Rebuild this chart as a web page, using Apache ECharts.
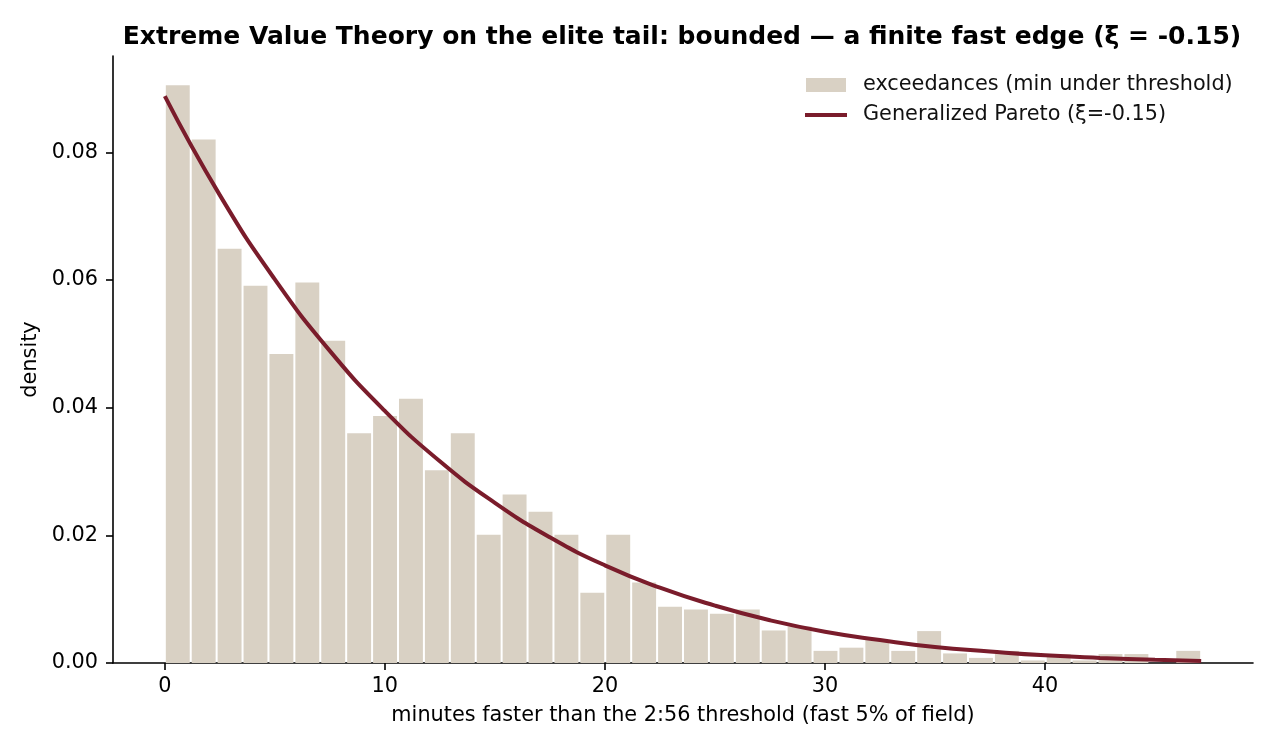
<!DOCTYPE html>
<html>
	<head>
		<meta charset="UTF-8">
		<title>EVT elite tail</title>
		<style>
			body { margin: 0; background: #fff; }
		</style>
	</head>
	<body>
		<div id="main" style="width: 1275px;height:750px;"></div>
		<script src="https://cdn.jsdelivr.net/npm/echarts@6.0.0/dist/echarts.min.js"></script>
		<script type="text/javascript">
			// histogram of exceedances (density), 40 equal bins from 0 to 47.1
			var binStart = 0;
			var binWidth = 1.1775;
			var densities = [
				0.0905, 0.0820, 0.0649, 0.0591, 0.0484, 0.0596, 0.0505, 0.0360, 0.0387, 0.0414,
				0.0302, 0.0360, 0.0201, 0.0264, 0.0237, 0.0201, 0.0110, 0.0201, 0.0126, 0.0088,
				0.0084, 0.0077, 0.0084, 0.0051, 0.0057, 0.0019, 0.0024, 0.0036, 0.0019, 0.0050,
				0.0015, 0.0008, 0.0019, 0.0004, 0.0014, 0.0004, 0.0014, 0.0014, 0.0000, 0.0019
			];
			// fitted Generalized Pareto density
			var curveX = [0, 2.5, 5, 7.5, 10, 12.5, 15, 17.5, 20, 22.5, 25, 27.5, 30, 32.5, 35, 37.5, 40, 42.5, 45, 47.1];
			var curveY = [0.0888, 0.0733, 0.0601, 0.0489, 0.0395, 0.0316, 0.0251, 0.0197, 0.0153, 0.0118,
				0.0090, 0.0067, 0.0049, 0.0036, 0.0025, 0.0018, 0.0012, 0.0008, 0.0005, 0.0003];
			var xTicks = [0, 10, 20, 30, 40];
			var yTicks = [0, 0.02, 0.04, 0.06, 0.08];

			var histName = 'exceedances (min under threshold)';
			var fitName = 'Generalized Pareto (ξ=-0.15)';
			var font = 'DejaVu Sans';

			var histData = [];
			for (var i = 0; i < densities.length; i++) {
				var lo = binStart + i * binWidth;
				histData.push([lo, lo + binWidth, densities[i]]);
			}
			var curveData = [];
			for (var j = 0; j < curveX.length; j++) {
				curveData.push([curveX[j], curveY[j]]);
			}

			var myChart = echarts.init(document.getElementById('main'));
			var option = {
				animation: false,
				backgroundColor: '#fff',
				title: {
					text: 'Extreme Value Theory on the elite tail: bounded — a finite fast edge (ξ = -0.15)',
					left: 677,
					textAlign: 'center',
					top: 20,
					textStyle: { fontFamily: font, fontSize: 25, fontWeight: 'bold', color: '#000' }
				},
				legend: [{
					data: [histName],
					left: 806,
					top: 73,
					itemWidth: 40,
					itemHeight: 14,
					icon: 'rect',
					selectedMode: false,
					padding: 0,
					textStyle: { fontFamily: font, fontSize: 20.8, color: '#111', lineHeight: 24, padding: [0, 0, 0, 12] }
				}, {
					data: [fitName],
					left: 805,
					top: 103,
					itemWidth: 42,
					itemHeight: 4,
					icon: 'rect',
					selectedMode: false,
					padding: 0,
					textStyle: { fontFamily: font, fontSize: 20.8, color: '#111', lineHeight: 24, padding: [0, 0, 0, 11] }
				}],
				grid: { left: 113, right: 22, top: 56, bottom: 87 },
				xAxis: {
					type: 'value',
					min: -2.355,
					max: 49.455,
					name: 'minutes faster than the 2:56 threshold (fast 5% of field)',
					nameLocation: 'middle',
					nameGap: 42,
					nameTextStyle: { fontFamily: font, fontSize: 20.8, color: '#000' },
					axisLine: { onZero: false, lineStyle: { color: '#000', width: 1.6 } },
					axisTick: { customValues: xTicks, length: 7, lineStyle: { color: '#000', width: 1.6 } },
					axisLabel: { customValues: xTicks, margin: 13, fontFamily: font, fontSize: 20.8, color: '#000' },
					splitLine: { show: false }
				},
				yAxis: {
					type: 'value',
					min: 0,
					max: 0.0951,
					name: 'density',
					nameLocation: 'middle',
					nameGap: 68,
					nameTextStyle: { fontFamily: font, fontSize: 20.8, color: '#000' },
					axisLine: { show: true, onZero: false, lineStyle: { color: '#000', width: 1.6 } },
					axisTick: { show: true, customValues: yTicks, length: 7, lineStyle: { color: '#000', width: 1.6 } },
					axisLabel: {
						customValues: yTicks, margin: 15, fontFamily: font, fontSize: 20.8, color: '#000',
						formatter: function (v) { return v.toFixed(2); }
					},
					splitLine: { show: false }
				},
				series: [{
					name: histName,
					type: 'custom',
					itemStyle: { color: '#d9d1c4' },
					encode: { x: [0, 1], y: 2 },
					data: histData,
					renderItem: function (params, api) {
						var top = api.coord([api.value(0), api.value(2)]);
						var bottom = api.coord([api.value(1), 0]);
						return {
							type: 'rect',
							shape: { x: top[0] + 1, y: top[1], width: bottom[0] - top[0] - 2, height: bottom[1] - top[1] },
							style: { fill: api.visual('color') }
						};
					},
					z: 1
				}, {
					name: fitName,
					type: 'line',
					data: curveData,
					smooth: true,
					showSymbol: false,
					color: '#7a1c2b',
					lineStyle: { color: '#7a1c2b', width: 4 },
					z: 3
				}]
			};
			myChart.setOption(option);
		</script>
	</body>
</html>
